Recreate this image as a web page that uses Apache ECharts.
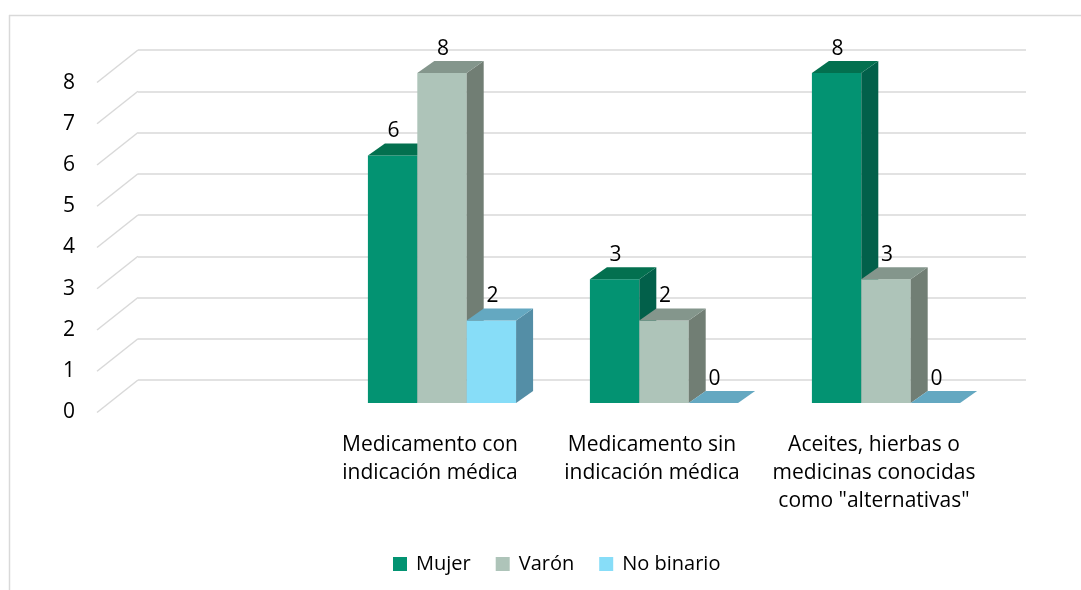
<!DOCTYPE html>
<html><head><meta charset="utf-8">
<script src="https://cdn.jsdelivr.net/npm/echarts@6/dist/echarts.min.js"></script>
<style>html,body{margin:0;padding:0;background:#fff}#c{width:1081px;height:590px}</style>
</head><body><div id="c"></div>
<script>
const categories = ['', 'Medicamento con\nindicación médica', 'Medicamento sin\nindicación médica', 'Aceites, hierbas o\nmedicinas conocidas\ncomo "alternativas"'];
const seriesNames = ['Mujer', 'Varón', 'No binario'];
const mujer = [null, 6, 3, 8];
const varon = [null, 8, 2, 3];
const noBinario = [null, 2, 0, 0];
const yTicks = [0, 1, 2, 3, 4, 5, 6, 7, 8];

const FONT = '"Open Sans", sans-serif';
const faceColors = [
  { front: '#039372', top: '#03704f', side: '#02604a' },
  { front: '#aec4b9', top: '#84968c', side: '#717e74' },
  { front: '#87ddf8', top: '#64a8c1', side: '#548ea6' }
];
const seriesValues = [mujer, varon, noBinario];

const chart = echarts.init(document.getElementById('c'));

function barSeries(idx) {
  const vals = seriesValues[idx];
  const fc = faceColors[idx];
  return {
    type: 'custom',
    name: seriesNames[idx],
    xAxisIndex: 1, yAxisIndex: 1,
    itemStyle: { color: fc.front },
    data: vals.map((v, i) => [i, v]),
    renderItem: function (params, api) {
      const v = api.value(1);
      if (v === null || v === undefined || isNaN(v)) return null;
      const cat = api.value(0);
      const c = api.coord([cat, v]);
      const b = api.coord([cat, 0]);
      const band = api.size([1, 0])[0];
      const bw = band * 0.2225;
      const x0 = c[0] - 1.5 * bw + idx * bw;
      const x1 = x0 + bw;
      const yTop = c[1], yBot = b[1];
      const dx = 17, dy = 12;
      const children = [];
      if (v > 0) {
        children.push({ type: 'rect', shape: { x: x0, y: yTop, width: bw, height: yBot - yTop }, style: { fill: fc.front } });
        children.push({ type: 'polygon', shape: { points: [[x1, yTop], [x1 + dx, yTop - dy], [x1 + dx, yBot - dy], [x1, yBot]] }, style: { fill: fc.side } });
      }
      children.push({ type: 'polygon', shape: { points: [[x0, yTop], [x0 + dx, yTop - dy], [x1 + dx, yTop - dy], [x1, yTop]] }, style: { fill: fc.top } });
      children.push({ type: 'text', z2: 100, style: { text: String(v), x: x0 + bw / 2 + 1, y: yTop - 24, align: 'center', verticalAlign: 'middle', fill: '#000', font: '21px ' + FONT } });
      return { type: 'group', children: children };
    }
  };
}

const option = {
  animation: false,
  backgroundColor: '#fff',
  graphic: [
    { type: 'line', shape: { x1: 9, y1: 15.5, x2: 1081, y2: 15.5 }, style: { stroke: '#d9d9d9', lineWidth: 1.5 } },
    { type: 'line', shape: { x1: 9.5, y1: 15, x2: 9.5, y2: 590 }, style: { stroke: '#d9d9d9', lineWidth: 1.5 } }
  ],
  grid: [
    { left: 138, top: 50, width: 888, height: 330 },
    { left: 109, top: 73, width: 888, height: 330 },
    { left: 97, top: 83, width: 10, height: 329 }
  ],
  xAxis: [
    { gridIndex: 0, type: 'category', data: categories, show: false },
    { gridIndex: 1, type: 'category', data: categories,
      axisLine: { show: false }, axisTick: { show: false }, splitLine: { show: false },
      axisLabel: { interval: 0, margin: 28, color: '#000', fontSize: 21, fontFamily: FONT, lineHeight: 28, padding: [0, 24, 0, 0] } },
    { gridIndex: 2, type: 'category', data: categories, show: false }
  ],
  yAxis: [
    { gridIndex: 0, type: 'value', min: 0, max: 8, interval: 1,
      axisLine: { show: false }, axisTick: { show: false }, axisLabel: { show: false },
      splitLine: { show: true, lineStyle: { color: '#d9d9d9', width: 1.5 } } },
    { gridIndex: 1, type: 'value', min: 0, max: 8, interval: 1, show: false, splitLine: { show: false } },
    { gridIndex: 2, type: 'value', min: 0, max: 8, interval: 1,
      axisLine: { show: false }, axisTick: { show: false }, splitLine: { show: false },
      axisLabel: { margin: 22, color: '#000', fontSize: 21, fontFamily: FONT } }
  ],
  legend: {
    data: seriesNames,
    top: 549, left: 388,
    icon: 'rect', itemWidth: 14, itemHeight: 14, itemGap: 25,
    textStyle: { color: '#000', fontSize: 20, fontFamily: FONT, padding: [0, 0, 0, 4] }
  },
  series: [
    {
      type: 'custom', name: 'walls', xAxisIndex: 0, yAxisIndex: 0, silent: true,
      data: yTicks.map(v => [0, v]),
      renderItem: function (params, api) {
        const y = api.coord([0, api.value(1)])[1];
        const x = params.coordSys.x;
        return { type: 'line', shape: { x1: x, y1: y, x2: x - 41, y2: y + 32.5 }, style: { stroke: '#d9d9d9', lineWidth: 1.5 } };
      }
    },
    barSeries(0), barSeries(1), barSeries(2)
  ]
};
chart.setOption(option);
</script></body></html>
